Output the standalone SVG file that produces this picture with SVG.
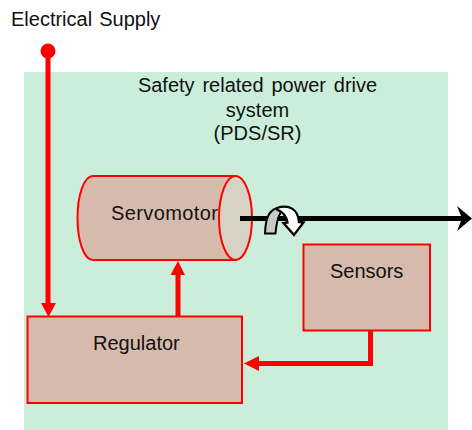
<svg xmlns="http://www.w3.org/2000/svg" width="472" height="430" viewBox="0 0 472 430">
<style>
text{font-family:"Liberation Sans",Arial,sans-serif;font-size:20px;fill:#111}
.m{text-anchor:middle}
.box{fill:#d6baac;stroke:#f00;stroke-width:2}
.red{fill:none;stroke:#f00;stroke-width:5}
.hd{fill:#f00}
</style>
<rect width="472" height="430" fill="#fff"/>
<rect id="pds" x="24" y="72" width="424" height="358" fill="#cbeedb"/>
<g id="labels">
<text x="11" y="26" word-spacing="1.500">Electrical Supply</text>
<text class="m" x="257.500" y="92" word-spacing="2.300">Safety related power drive</text>
<text class="m" x="257.500" y="117">system</text>
<text class="m" x="257.500" y="140">(PDS/SR)</text>
</g>
<g id="connectors">
<circle class="hd" cx="48" cy="51" r="7.5"/>
<path class="red" d="M48 51V304"/>
<path class="hd" d="M41 303H56L48.500 317Z"/>
<path class="red" d="M178 318V272"/>
<path class="hd" d="M170.500 275H185L178 261Z"/>
<path class="red" d="M370.500 331V363.500H256"/>
<path class="hd" d="M244 363.500L259 356V371Z"/>
</g>
<g id="servomotor">
<path class="box" d="M93 176H236V260H93C84 260 77.500 241 77.500 218S84 176 93 176Z"/>
<ellipse cx="235.500" cy="218" rx="16.500" ry="42" fill="#d6d2c4" stroke="#f00" stroke-width="2"/>
<text x="111" y="220" letter-spacing="0.400">Servomotor</text>
</g>
<g id="regulator">
<rect class="box" x="27.500" y="316.500" width="214.500" height="86.500"/>
<text x="93" y="350">Regulator</text>
</g>
<g id="sensors">
<rect class="box" x="303.500" y="244.500" width="126.500" height="86"/>
<text x="330" y="278">Sensors</text>
</g>
<g id="shaft">
<path d="M240 218.500H464" fill="none" stroke="#000" stroke-width="5"/>
<path d="M457 206L472 218.500L457 231L462 218.500Z" fill="#000"/>
</g>
<g id="rotation">
<path d="M265 233.500C265.500 220 268 208 281 207.500L283 210C279 213 276.500 222 275.500 233.500Z" fill="#c9c9c9" stroke="#000" stroke-width="2"/>
<path d="M277 208C289 204 298 209 299 222L303.500 222.500L294 235L283.500 223L287.500 222.500C286.500 216 283 212 277 209.500Z" fill="#fff" stroke="#000" stroke-width="2.300"/>
</g>
</svg>
